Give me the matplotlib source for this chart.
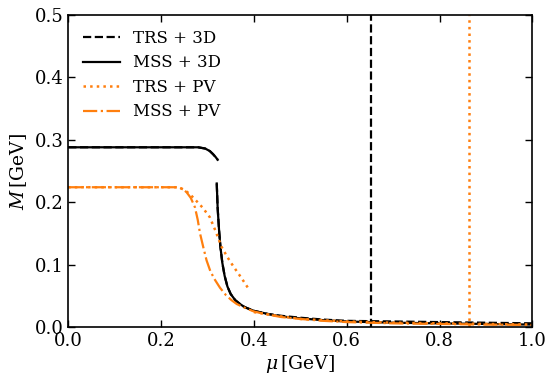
import numpy as np
import matplotlib
matplotlib.use("Agg")
import matplotlib.pyplot as plt

plt.rcParams['font.family'] = ['DejaVu Serif']
plt.rcParams['mathtext.fontset'] = 'dejavuserif'

# MSS + 3D (two branches separated by NaN)
mss3d_mu = [0.0, 0.1, 0.2, 0.28, 0.295, 0.305, 0.312, 0.318, 0.322, np.nan,
            0.320, 0.322, 0.325, 0.328, 0.332, 0.337, 0.343, 0.35, 0.36, 0.37, 0.38,
            0.40, 0.43, 0.46, 0.50, 0.55, 0.60, 0.70, 0.80, 0.90, 1.0]
mss3d_M = [0.288, 0.288, 0.288, 0.288, 0.286, 0.282, 0.277, 0.272, 0.268, np.nan,
           0.230, 0.190, 0.155, 0.128, 0.103, 0.082, 0.065, 0.053, 0.043, 0.037, 0.032,
           0.026, 0.021, 0.017, 0.014, 0.011, 0.009, 0.007, 0.006, 0.005, 0.004]

# TRS + 3D
trs3d_mu = [0.0, 0.1, 0.2, 0.28, 0.295, 0.305, 0.312, 0.318, 0.322, np.nan,
            0.320, 0.322, 0.325, 0.328, 0.332, 0.337, 0.343, 0.35, 0.36, 0.37, 0.38,
            0.40, 0.43, 0.46, 0.50, 0.55, 0.60, 0.70, 0.80, 0.90, 1.0]
trs3d_M = [0.288, 0.288, 0.288, 0.288, 0.286, 0.282, 0.277, 0.272, 0.268, np.nan,
           0.230, 0.190, 0.155, 0.128, 0.103, 0.082, 0.065, 0.053, 0.043, 0.037, 0.032,
           0.026, 0.021, 0.018, 0.015, 0.012, 0.010, 0.009, 0.008, 0.007, 0.006]
trs3d_vline = 0.653

# TRS + PV
trspv_mu = [0.0, 0.1, 0.2, 0.237, 0.25, 0.262, 0.275, 0.29, 0.305, 0.318, 0.330,
            0.343, 0.356, 0.372, 0.388, np.nan,
            0.40, 0.45, 0.50, 0.60, 0.70, 0.80, 0.90, 1.0]
trspv_M = [0.224, 0.224, 0.224, 0.224, 0.220, 0.213, 0.203, 0.191, 0.176, 0.153, 0.129,
           0.112, 0.097, 0.080, 0.062, np.nan,
           0.024, 0.018, 0.013, 0.009, 0.007, 0.006, 0.005, 0.004]
trspv_vline = 0.864

# MSS + PV
msspv_mu = [0.0, 0.1, 0.2, 0.237, 0.247, 0.255, 0.264, 0.273, 0.279, 0.284, 0.291,
            0.298, 0.306, 0.315, 0.327, 0.340, 0.352, 0.363, 0.38, 0.40, 0.43,
            0.46, 0.50, 0.55, 0.60, 0.70, 0.80, 0.90, 1.0]
msspv_M = [0.224, 0.224, 0.224, 0.224, 0.221, 0.216, 0.207, 0.192, 0.172, 0.150, 0.128,
           0.107, 0.090, 0.077, 0.063, 0.051, 0.043, 0.037, 0.031, 0.025, 0.020,
           0.016, 0.013, 0.010, 0.008, 0.006, 0.005, 0.004, 0.0035]

orange = '#ff7f0e'

fig = plt.figure(figsize=(5.5, 3.83), dpi=100)
ax = fig.add_axes([0.124, 0.146, 0.844, 0.815])

ax.plot(trs3d_mu, trs3d_M, color='black', ls='--', lw=1.6, label='TRS + 3D')
ax.axvline(trs3d_vline, color='black', ls='--', lw=1.6)
ax.plot(mss3d_mu, mss3d_M, color='black', ls='-', lw=1.6, label='MSS + 3D')
ax.plot(trspv_mu, trspv_M, color=orange, ls=':', lw=1.8, label='TRS + PV')
ax.axvline(trspv_vline, color=orange, ls=':', lw=1.8)
ax.plot(msspv_mu, msspv_M, color=orange, ls='-.', lw=1.6, label='MSS + PV')

ax.set_xlim(0, 1.0)
ax.set_ylim(0, 0.5)
ax.set_xticks([0.0, 0.2, 0.4, 0.6, 0.8, 1.0])
ax.set_yticks([0.0, 0.1, 0.2, 0.3, 0.4, 0.5])
ax.tick_params(direction='in', top=True, right=True, labelsize=13, length=5, width=1)
for s in ax.spines.values():
    s.set_linewidth(1.2)
ax.set_xlabel(r'$\mu\,[\mathrm{GeV}]$', fontsize=13.5, labelpad=2)
ax.set_ylabel(r'$M\,[\mathrm{GeV}]$', fontsize=13.5, labelpad=4)
ax.legend(loc='upper left', frameon=False, fontsize=12, handlelength=2.2,
          labelspacing=0.45)

fig.savefig('out.png', dpi=100)
